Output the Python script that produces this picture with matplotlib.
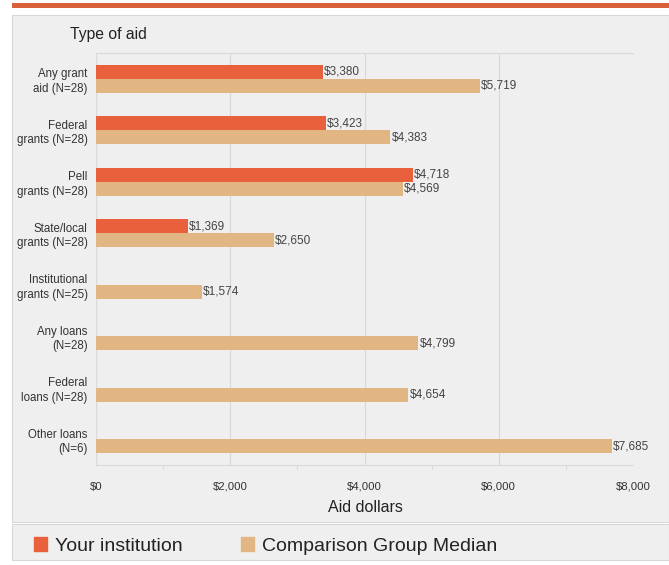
import numpy as np
import matplotlib.pyplot as plt
from matplotlib.patches import Rectangle, Patch

plt.rcParams['font.family'] = ['Liberation Sans Narrow', 'Liberation Sans', 'DejaVu Sans']

# data
categories = ["Any grant\naid (N=28)", "Federal\ngrants (N=28)", "Pell\ngrants (N=28)",
              "State/local\ngrants (N=28)", "Institutional\ngrants (N=25)", "Any loans\n(N=28)",
              "Federal\nloans (N=28)", "Other loans\n(N=6)"]
your_inst = [3380, 3423, 4718, 1369, None, None, None, None]
comparison = [5719, 4383, 4569, 2650, 1574, 4799, 4654, 7685]
xticks = [0, 2000, 4000, 6000, 8000]

orange = "#e8603c"
tan = "#e2b683"
panel = "#efefef"

fig = plt.figure(figsize=(6.69, 5.65), dpi=100)
fig.patch.set_facecolor("white")

# background panels and top rule
fig.add_artist(Rectangle((12/669, 1-522/565), 657/669, 507/565, transform=fig.transFigure,
                         facecolor=panel, edgecolor="#d8d8d8", lw=0.8, zorder=0))
fig.add_artist(Rectangle((12/669, 1-560/565), 657/669, 36/565, transform=fig.transFigure,
                         facecolor=panel, edgecolor="#d8d8d8", lw=0.8, zorder=0))
fig.add_artist(Rectangle((12/669, 1-8/565), 657/669, 5/565, transform=fig.transFigure,
                         facecolor="#d9603b", edgecolor="none", zorder=0))

ax = fig.add_axes([96/669, 1-465/565, 537/669, 412/565])
ax.set_facecolor(panel)

y = np.arange(len(categories))
h = 0.27
off = 0.136
for i in range(len(categories)):
    if your_inst[i] is not None:
        ax.barh(y[i] - off, your_inst[i], height=h, color=orange, zorder=3)
        ax.text(your_inst[i] + 20, y[i] - off, "${:,}".format(your_inst[i]), va="center",
                ha="left", fontsize=8.5, color="#444444")
    ax.barh(y[i] + off, comparison[i], height=h, color=tan, zorder=3)
    ax.text(comparison[i] + 20, y[i] + off, "${:,}".format(comparison[i]), va="center",
            ha="left", fontsize=8.5, color="#444444")

ax.set_ylim(len(categories) - 0.5, -0.5)
ax.set_xlim(0, 8000)
ax.set_yticks(y)
ax.set_yticklabels(categories, fontsize=8.3, color="#333333", linespacing=1.3)
ax.set_xticks(xticks)
ax.set_xticklabels(["${:,}".format(v) for v in xticks], fontsize=8.2, color="#333333")
ax.set_xticks([1000, 3000, 5000, 7000], minor=True)
ax.tick_params(axis="y", length=0, pad=6)
ax.tick_params(axis="x", which="major", length=0, pad=12)
ax.tick_params(axis="x", which="minor", length=3, color="#d5d5d5")
ax.grid(axis="x", color="#d8d8d8", lw=0.8, zorder=0)
for s in ["left", "bottom", "top"]:
    ax.spines[s].set_color("#dadada")
ax.spines["right"].set_visible(False)

fig.text(70/669, 1-35/565, "Type of aid", fontsize=11.3, color="#222222", va="center")
fig.text(365/669, 1-508/565, "Aid dollars", fontsize=11.5, color="#222222", ha="center", va="center")

handles = [Patch(color=orange), Patch(color=tan)]
fig.legend(handles, ["Your institution", "Comparison Group Median"], loc="center left",
           bbox_to_anchor=(16/669, 1-546/565), ncol=2, frameon=False, fontsize=14,
           handlelength=0.7, handleheight=0.7, handletextpad=0.4, columnspacing=3.0,
           labelcolor="#222222")

fig.savefig("out.png", dpi=100, facecolor=fig.get_facecolor())
